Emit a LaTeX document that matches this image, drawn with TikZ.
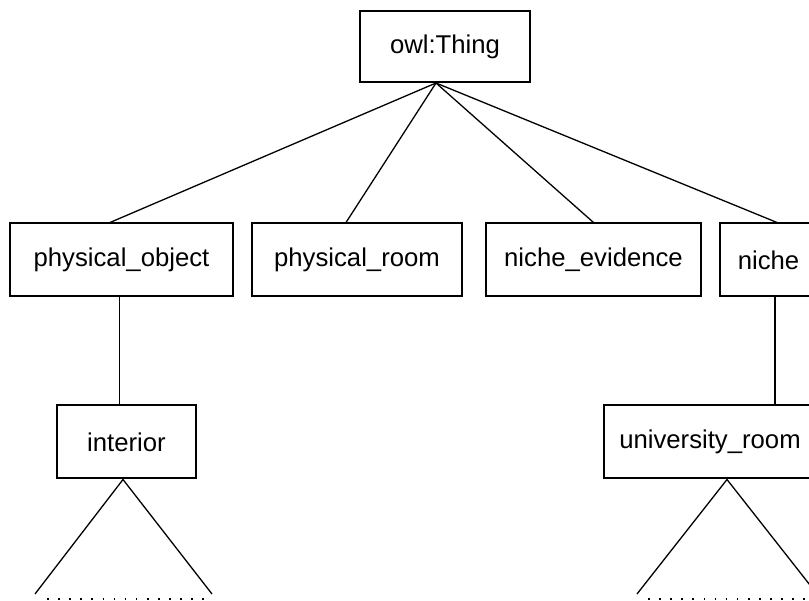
\documentclass[tikz,border=0pt]{standalone}
\usepackage{fontspec}
\setmainfont{Liberation Sans}
\begin{document}
\begin{tikzpicture}[x=1pt,y=-1pt,
  classbox/.style={draw,line width=2pt,inner sep=0pt,minimum height=73pt,
    font=\fontsize{25.7}{30}\selectfont},
  edge/.style={line width=1.3pt},
  leaves/.style={line width=1.6pt,dash pattern=on 1.6pt off 9.5pt}]
\useasboundingbox (0,0) rectangle (809,601);

% root and first level
\node[classbox,minimum width=170pt,minimum height=71pt] (thing) at (445,46.5) {owl:Thing};
\node[classbox,minimum width=223pt] (po) at (121.5,260) {physical\_object};
\node[classbox,minimum width=210pt] (pr) at (357,260) {physical\_room};
\node[classbox,minimum width=215pt] (ne) at (593.5,260) {niche\_evidence};
\node[classbox,minimum width=97pt] (niche) at (768.5,260) {niche};

% second level
\node[classbox,minimum width=139pt] (int) at (126.5,442) {interior};
\node[classbox,minimum width=212pt] (ur) at (710,442) {university\_room};

% subclass links
\draw[edge] ([xshift=-9pt]thing.south) -- ([xshift=-11.5pt]po.north);
\draw[edge] ([xshift=-9pt]thing.south) -- ([xshift=-11pt]pr.north);
\draw[edge] ([xshift=-9pt]thing.south) -- (ne.north);
\draw[edge] ([xshift=-9pt]thing.south) -- ([xshift=8.5pt]niche.north);
\draw[edge] ([xshift=-2pt]po.south) -- ([xshift=-7pt]int.north);
\draw[edge] ([xshift=6.5pt]niche.south) -- ([xshift=65pt]ur.north);

% collapsed subtrees
\coordinate (intL) at (35,594);
\coordinate (intR) at (212,594);
\coordinate (urL) at (637,594);
\coordinate (urR) at (817,594);
\draw[edge] (intL) -- ([xshift=-3.5pt]int.south) -- (intR);
\draw[edge] (urL) -- ([xshift=17pt]ur.south) -- (urR);
\coordinate (intD1) at (47,599);
\coordinate (intD2) at (210,599);
\coordinate (urD1) at (648,599);
\coordinate (urD2) at (815,599);
\draw[leaves] (intD1) -- (intD2);
\draw[leaves] (urD1) -- (urD2);
\end{tikzpicture}
\end{document}
